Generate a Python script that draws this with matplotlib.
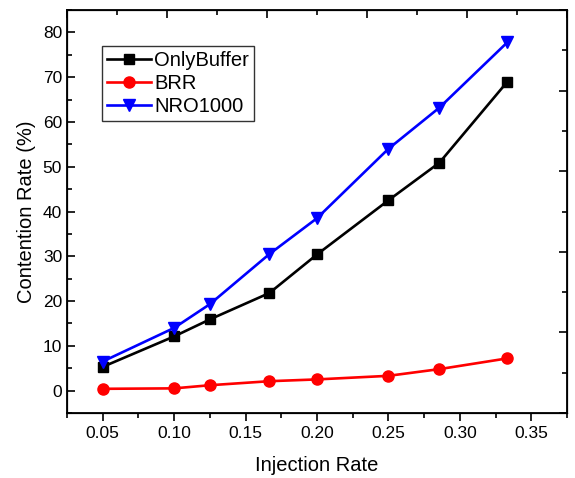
import matplotlib.pyplot as plt
from matplotlib.ticker import MultipleLocator

plt.rcParams['font.family'] = ['Liberation Sans', 'DejaVu Sans']

injection_rate = [0.05, 0.1, 0.125, 0.1667, 0.2, 0.25, 0.2857, 0.3333]
only_buffer = [5.3, 12.1, 15.9, 21.8, 30.4, 42.5, 50.9, 69.0]
brr = [0.4, 0.5, 1.2, 2.1, 2.5, 3.3, 4.8, 7.2]
nro1000 = [6.5, 14.0, 19.3, 30.5, 38.5, 54.0, 63.2, 77.8]

fig = plt.figure(figsize=(5.75, 4.78), dpi=100)
ax = fig.add_axes([0.1165, 0.136, 0.8695, 0.843])

ax.plot(injection_rate, only_buffer, color='black', marker='s', ms=7, lw=1.9, label='OnlyBuffer')
ax.plot(injection_rate, brr, color='red', marker='o', ms=8, lw=1.9, label='BRR')
ax.plot(injection_rate, nro1000, color='blue', marker='v', ms=8.5, lw=1.9, label='NRO1000')

ax.set_xlim(0.025, 0.375)
ax.set_ylim(-5, 85)
ax.xaxis.set_minor_locator(MultipleLocator(0.025))
ax.yaxis.set_major_locator(MultipleLocator(10))
ax.yaxis.set_minor_locator(MultipleLocator(5))
ax.set_xticks([0.05, 0.10, 0.15, 0.20, 0.25, 0.30, 0.35])
ax.set_xticklabels(['0.05', '0.10', '0.15', '0.20', '0.25', '0.30', '0.35'])
ax.tick_params(axis='x', which='major', direction='out', length=6, width=1.2, labelsize=12.5)
ax.tick_params(axis='x', which='minor', direction='out', length=3.5, width=1.2)
ax.tick_params(axis='y', which='major', direction='in', length=6, width=1.2, labelsize=12.5)
ax.tick_params(axis='y', which='minor', direction='in', length=3.5, width=1.2)
for s in ax.spines.values():
    s.set_linewidth(1.3)

# mirror axes (Origin style, own 0-10 scale)
top = ax.twiny()
top.set_xlim(0, 10)
top.xaxis.set_major_locator(MultipleLocator(2))
top.xaxis.set_minor_locator(MultipleLocator(1))
top.tick_params(axis='x', which='major', direction='in', length=6, width=1.2, labeltop=False)
top.tick_params(axis='x', which='minor', direction='in', length=3.5, width=1.2)
right = ax.twinx()
right.set_ylim(0, 10)
right.yaxis.set_major_locator(MultipleLocator(2))
right.yaxis.set_minor_locator(MultipleLocator(1))
right.tick_params(axis='y', which='major', direction='in', length=6, width=1.2, labelright=False)
right.tick_params(axis='y', which='minor', direction='in', length=3.5, width=1.2)

ax.set_xlabel('Injection Rate', fontsize=14.5, labelpad=11)
ax.set_ylabel('Contention Rate (%)', fontsize=14.5, labelpad=5)

leg = ax.legend(loc='upper left', bbox_to_anchor=(0.07, 0.911), fontsize=14.5, frameon=True,
                fancybox=False, edgecolor='black', handlelength=2.2, handletextpad=0.15,
                borderpad=0.25, labelspacing=0.2, borderaxespad=0)
leg.get_frame().set_linewidth(1.0)

fig.savefig('out.png', dpi=100)
